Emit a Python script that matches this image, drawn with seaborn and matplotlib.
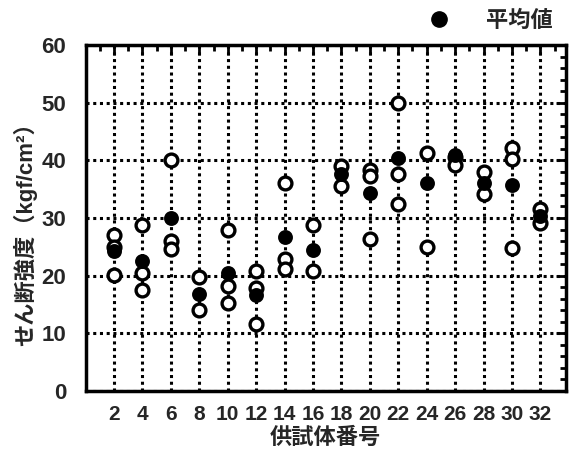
import matplotlib
matplotlib.use("Agg")
import matplotlib.pyplot as plt
import seaborn as sns
import pandas as pd
from matplotlib.lines import Line2D
from matplotlib.ticker import MultipleLocator

# ---- data ----
specimens = [2, 4, 6, 8, 10, 12, 14, 16, 18, 20, 22, 24, 26, 28, 30, 32]
individual_values = [
    [27.0, 25.0, 20.2],
    [28.8, 20.4, 17.5],
    [40.1, 26.0, 24.6],
    [19.8, 14.0],
    [27.9, 18.2, 15.3],
    [20.8, 17.8, 11.7],
    [36.0, 22.9, 21.1],
    [28.7, 20.8],
    [39.0, 35.5],
    [38.3, 37.3, 26.3],
    [50.0, 37.6, 32.5],
    [41.3, 25.0],
    [40.6, 39.2],
    [37.9, 34.1],
    [42.1, 40.2, 24.8],
    [31.5, 29.2],
]
mean_values = [24.3, 22.5, 30.0, 16.9, 20.4, 16.7, 26.7, 24.4, 37.6, 34.3, 40.4, 36.0, 40.9, 36.0, 35.7, 30.3]
x_ticks = [2, 4, 6, 8, 10, 12, 14, 16, 18, 20, 22, 24, 26, 28, 30, 32]
y_ticks = [0, 10, 20, 30, 40, 50, 60]
xlabel = "供試体番号"
ylabel = "せん断強度（kgf/cm²）"
legend_label = "平均値"

ind_df = pd.DataFrame(
    [(s, v) for s, vals in zip(specimens, individual_values) for v in vals],
    columns=["specimen", "value"],
)
mean_df = pd.DataFrame({"specimen": specimens, "value": mean_values})

sns.set_style("white")
plt.rcParams["font.family"] = ["Liberation Sans", "Noto Sans CJK JP"]
plt.rcParams["font.weight"] = "bold"

fig = plt.figure(figsize=(5.69, 4.49), dpi=100)
ax = fig.add_axes([85.6 / 569, 1 - 391 / 449, (566 - 85.6) / 569, (391 - 45) / 449])

sns.scatterplot(data=ind_df, x="specimen", y="value", ax=ax, marker="o", s=85,
                facecolor="white", edgecolor="black", linewidth=2.4, zorder=3, legend=False)
sns.scatterplot(data=mean_df, x="specimen", y="value", ax=ax, marker="o", s=85,
                color="black", edgecolor="black", linewidth=1.5, zorder=4, legend=False)

ax.set_xlim(0, 33.8)
ax.set_ylim(0, 60)
ax.set_xticks(x_ticks)
ax.set_yticks(y_ticks)
ax.xaxis.set_minor_locator(MultipleLocator(1))
ax.yaxis.set_minor_locator(MultipleLocator(2))
ax.tick_params(axis="both", which="both", direction="in", top=True, right=True,
               color="black")
ax.tick_params(axis="both", which="major", length=7, width=2)
ax.tick_params(axis="both", which="minor", length=4, width=2)
ax.tick_params(axis="y", which="major", labelsize=16, pad=14)
ax.tick_params(axis="x", which="major", labelsize=15, pad=10)
for lab in ax.get_xticklabels() + ax.get_yticklabels():
    lab.set_fontweight("bold")

ax.grid(True, which="major", color="black", linestyle=(0, (1, 1.2)), linewidth=2.2)
for sp in ax.spines.values():
    sp.set_linewidth(2.5)
    sp.set_color("black")

ax.set_xlabel(xlabel, fontsize=16, fontweight="bold")
ax.xaxis.set_label_coords(0.5, -0.105)
ax.set_ylabel(ylabel, fontsize=16, fontweight="bold")
ax.yaxis.set_label_coords(-0.10, 0.47)

handle = Line2D([], [], marker="o", linestyle="none", color="black", markersize=11)
ax.legend(handles=[handle], labels=[legend_label], loc="lower right",
          bbox_to_anchor=(1.0, 1.0), frameon=False,
          handletextpad=1.1, borderaxespad=0.2, prop={"weight": "bold", "size": 16})

fig.savefig("out.png", dpi=100)
